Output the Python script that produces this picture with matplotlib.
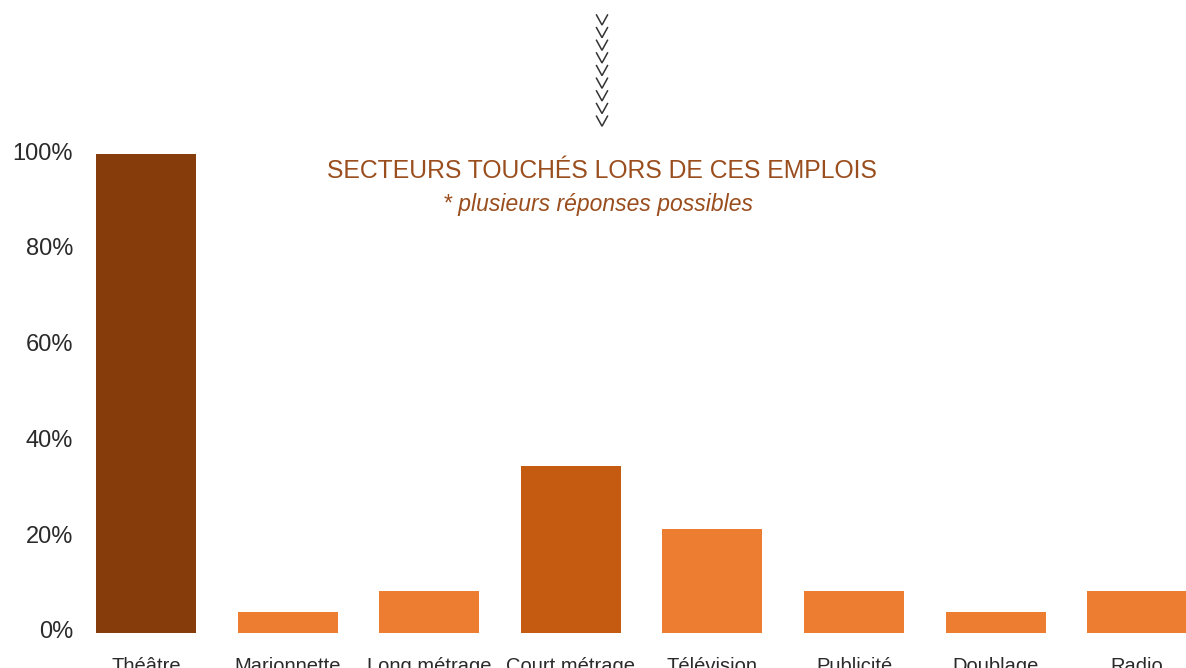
import matplotlib
matplotlib.use("Agg")
import matplotlib.pyplot as plt
import matplotlib.transforms as mtransforms
from matplotlib.lines import Line2D

categories = ["Théâtre", "Marionnette", "Long métrage", "Court métrage",
              "Télévision", "Publicité", "Doublage", "Radio"]
values = [100, 4.3, 8.7, 34.8, 21.7, 8.7, 4.3, 8.7]
bar_colors = ["#873C0C", "#ED7D31", "#ED7D31", "#C55A11",
              "#ED7D31", "#ED7D31", "#ED7D31", "#ED7D31"]
yticks = [0, 20, 40, 60, 80, 100]
ytick_labels = ["0%", "20%", "40%", "60%", "80%", "100%"]
title = "SECTEURS TOUCHÉS LORS DE CES EMPLOIS"
subtitle = "* plusieurs réponses possibles"

W, H = 1186, 668
fig = plt.figure(figsize=(W / 100, H / 100), dpi=100)
plt.rcParams['font.family'] = ['Liberation Sans', 'DejaVu Sans']

left_px, right_px = 60, 1186
bottom_px, top_px = 633, 154
ax = fig.add_axes([left_px / W, (H - bottom_px) / H,
                   (right_px - left_px) / W, (bottom_px - top_px) / H])
c0, step = 146, 141.6
ax.set_xlim((left_px - c0) / step, (right_px - c0) / step)
ax.set_ylim(0, 100)

x = list(range(len(categories)))
ax.bar(x, values, width=0.707, color=bar_colors, clip_on=False)

for s in ax.spines.values():
    s.set_visible(False)
ax.tick_params(axis='both', length=0)
ax.set_yticks(yticks)
ax.set_yticklabels(ytick_labels, fontsize=17, color="#2a2a2a")
ax.set_xticks(x)
ax.set_xticklabels(categories, fontsize=14.5, color="#2a2a2a", va="top")
ax.tick_params(axis='x', pad=17)

offset = mtransforms.ScaledTranslation(0, 3 / 100, fig.dpi_scale_trans)
for lab in ax.get_yticklabels():
    lab.set_transform(mtransforms.blended_transform_factory(
        fig.transFigure, ax.transData) + offset)
    lab.set_x(73 / W)
    lab.set_ha("right")

fig.text(602 / W, 1 - 171 / H, title, ha="center", va="center",
         fontsize=17.8, color="#9A4E1E")
fig.text(598 / W, 1 - 204 / H, subtitle, ha="center", va="center",
         fontsize=16.5, color="#9A4E1E", style="italic")

# decorative chevrons (figure-pixel geometry)
for i in range(9):
    yc = 20 + i * 12.65
    xs = [(602 - 5.5) / W, 602 / W, (602 + 5.5) / W]
    ys = [1 - (yc - 5) / H, 1 - (yc + 5) / H, 1 - (yc - 5) / H]
    fig.add_artist(Line2D(xs, ys, transform=fig.transFigure,
                          color="#333333", linewidth=1.1,
                          solid_joinstyle="miter"))

fig.savefig("out.png", dpi=100)
